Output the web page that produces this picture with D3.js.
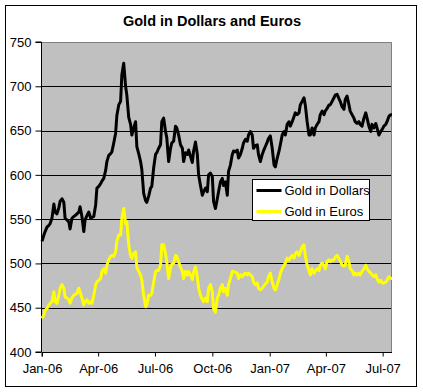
<!DOCTYPE html>
<html><head><meta charset="utf-8">
<script src="https://cdn.jsdelivr.net/npm/d3@7"></script>
<style>html,body{margin:0;padding:0;background:#fff;}svg{display:block;font-family:"Liberation Sans",Arial,sans-serif;}</style>
</head><body><svg id="c" width="423" height="392"></svg>
<script>
const title = "Gold in Dollars and Euros";
const seriesNames = ["Gold in Dollars", "Gold in Euros"];
const seriesColors = ["#000000", "#FFFF00"];
const yTicks = [400, 450, 500, 550, 600, 650, 700, 750];
const xTicks = ["2006-01-01","2006-04-01","2006-07-01","2006-10-01","2007-01-01","2007-04-01","2007-07-01"];
const xDomain = ["2006-01-01", "2007-07-16"];
const dates = [
"2006-01-01","2006-01-04","2006-01-06","2006-01-09","2006-01-12","2006-01-14","2006-01-17","2006-01-20","2006-01-22","2006-01-25",
"2006-01-28","2006-01-30","2006-02-02","2006-02-05","2006-02-07","2006-02-10","2006-02-13","2006-02-15","2006-02-18","2006-02-21",
"2006-02-23","2006-02-26","2006-03-01","2006-03-03","2006-03-06","2006-03-09","2006-03-11","2006-03-14","2006-03-17","2006-03-20",
"2006-03-22","2006-03-25","2006-03-28","2006-03-30","2006-04-02","2006-04-05","2006-04-07","2006-04-10","2006-04-13","2006-04-15",
"2006-04-18","2006-04-21","2006-04-23","2006-04-26","2006-04-29","2006-05-01","2006-05-04","2006-05-07","2006-05-09","2006-05-12",
"2006-05-15","2006-05-17","2006-05-20","2006-05-23","2006-05-25","2006-05-28","2006-05-31","2006-06-02","2006-06-05","2006-06-08",
"2006-06-10","2006-06-13","2006-06-16","2006-06-18","2006-06-21","2006-06-24","2006-06-26","2006-06-29","2006-07-02","2006-07-04",
"2006-07-07","2006-07-10","2006-07-12","2006-07-15","2006-07-18","2006-07-20","2006-07-23","2006-07-26","2006-07-28","2006-07-31",
"2006-08-03","2006-08-05","2006-08-08","2006-08-11","2006-08-14","2006-08-16","2006-08-19","2006-08-22","2006-08-24","2006-08-27",
"2006-08-30","2006-09-01","2006-09-04","2006-09-07","2006-09-09","2006-09-12","2006-09-15","2006-09-17","2006-09-20","2006-09-23",
"2006-09-25","2006-09-28","2006-10-01","2006-10-03","2006-10-06","2006-10-09","2006-10-11","2006-10-14","2006-10-17","2006-10-19",
"2006-10-22","2006-10-25","2006-10-27","2006-10-30","2006-11-02","2006-11-04","2006-11-07","2006-11-10","2006-11-12","2006-11-15",
"2006-11-18","2006-11-20","2006-11-23","2006-11-26","2006-11-28","2006-12-01","2006-12-04","2006-12-06","2006-12-09","2006-12-12",
"2006-12-14","2006-12-17","2006-12-20","2006-12-22","2006-12-25","2006-12-28","2006-12-30","2007-01-02","2007-01-05","2007-01-08",
"2007-01-10","2007-01-13","2007-01-16","2007-01-18","2007-01-21","2007-01-24","2007-01-26","2007-01-29","2007-02-01","2007-02-03",
"2007-02-06","2007-02-09","2007-02-11","2007-02-14","2007-02-17","2007-02-19","2007-02-22","2007-02-25","2007-02-27","2007-03-02",
"2007-03-05","2007-03-07","2007-03-10","2007-03-13","2007-03-15","2007-03-18","2007-03-21","2007-03-23","2007-03-26","2007-03-29",
"2007-03-31","2007-04-03","2007-04-06","2007-04-08","2007-04-11","2007-04-14","2007-04-16","2007-04-19","2007-04-22","2007-04-24",
"2007-04-27","2007-04-30","2007-05-02","2007-05-05","2007-05-08","2007-05-10","2007-05-13","2007-05-16","2007-05-18","2007-05-21",
"2007-05-24","2007-05-26","2007-05-29","2007-06-01","2007-06-04","2007-06-06","2007-06-09","2007-06-12","2007-06-14","2007-06-17",
"2007-06-20","2007-06-22","2007-06-25","2007-06-28","2007-06-30","2007-07-03","2007-07-06","2007-07-08","2007-07-11","2007-07-14",
"2007-07-16"];
const dollars = [
525,532,536,541,543,545,551,567,558,556,
563,570,573,569,551,549,547,539,551,553,
554,556,558,564,553,536,549,554,558,551,
552,553,566,585,587,590,593,596,605,615,
622,624,626,636,647,667,679,683,713,726,
700,690,665,657,645,653,660,632,624,615,
606,579,571,569,576,585,587,608,623,625,
630,634,660,664,649,642,615,630,636,638,
655,653,645,634,630,615,625,623,628,621,
614,627,637,623,600,588,577,581,585,581,
600,602,598,570,562,573,581,592,596,588,
592,577,604,611,623,627,626,628,619,623,
630,636,640,638,645,649,645,630,633,634,
623,615,623,627,632,637,641,644,630,611,
609,619,627,634,645,649,645,657,660,655,
660,666,670,668,670,679,683,687,679,660,
645,645,653,645,653,657,660,668,672,668,
672,675,679,679,683,687,690,691,686,683,
677,674,685,689,679,672,668,664,660,658,
660,657,655,664,670,664,655,649,657,653,
658,653,645,649,651,655,657,660,666,668,
668];
const euros = [
438,442,447,449,453,455,457,468,457,455,
464,472,476,472,462,461,459,455,461,464,
465,466,472,468,461,453,457,459,455,457,
455,464,476,479,481,483,491,494,489,498,
504,508,509,508,513,525,532,532,551,562,
545,547,521,509,506,511,513,496,491,487,
481,464,451,453,464,464,466,479,491,492,
492,498,521,521,511,502,483,495,499,500,
509,508,502,496,491,483,491,487,491,487,
482,490,496,485,472,464,459,457,461,457,
472,476,468,449,445,461,464,472,476,468,
472,464,476,483,491,491,490,489,483,487,
485,487,489,487,489,487,485,479,476,478,
472,470,472,474,477,479,485,489,479,472,
470,476,483,489,494,498,500,506,504,506,
509,506,511,513,509,513,519,521,509,498,
492,487,494,489,491,494,492,498,500,498,
494,502,504,502,504,504,507,509,505,503,
498,497,498,508,502,494,492,487,489,487,
489,487,491,494,498,494,491,489,487,485,
487,483,479,481,478,478,479,481,485,483,
483];

const svg = d3.select("#c");
const parse = d3.timeParse("%Y-%m-%d");
const plot = {left: 42, right: 392, top: 42, bottom: 352};

// outer frame
svg.append("rect").attr("x", 5.5).attr("y", 5.5).attr("width", 411).attr("height", 381)
  .attr("fill", "#fff").attr("stroke", "#000").attr("stroke-width", 1);

svg.append("text").attr("x", 212).attr("y", 26).attr("text-anchor", "middle")
  .attr("font-size", "14.5px").attr("font-weight", "bold").text(title);

const x = d3.scaleTime().domain(xDomain.map(parse)).range([plot.left, plot.right]);
const y = d3.scaleLinear().domain([yTicks[0], yTicks[yTicks.length - 1]]).range([plot.bottom, plot.top]);

svg.append("rect").attr("x", plot.left).attr("y", plot.top)
  .attr("width", plot.right - plot.left).attr("height", plot.bottom - plot.top).attr("fill", "#C0C0C0");

// gridlines
svg.append("g").selectAll("line").data(yTicks.slice(1, -1)).join("line")
  .attr("x1", plot.left).attr("x2", plot.right)
  .attr("y1", d => Math.round(y(d)) + 0.5).attr("y2", d => Math.round(y(d)) + 0.5)
  .attr("stroke", "#000").attr("stroke-width", 1);

// plot border top/right grey
svg.append("path").attr("d", `M${plot.left},${plot.top + 0.5}H${plot.right - 0.5}V${plot.bottom}`)
  .attr("fill", "none").attr("stroke", "#808080").attr("stroke-width", 1);

// axes
const yAxis = d3.axisLeft(y).tickValues(yTicks).tickSize(6).tickPadding(4).tickFormat(d3.format("d"));
const gy = svg.append("g").attr("transform", `translate(${plot.left - 0.5},0)`).call(yAxis);
const xAxis = d3.axisBottom(x).tickValues(xTicks.map(parse)).tickSize(4).tickPadding(7).tickFormat(d3.timeFormat("%b-%y"));
const gx = svg.append("g").attr("transform", `translate(0,${plot.bottom + 0.5})`).call(xAxis);
[gy, gx].forEach(g => {
  g.select(".domain").attr("stroke", "#000");
  g.selectAll(".tick line").attr("stroke", "#000");
  g.selectAll(".tick text").attr("font-size", "13px").attr("fill", "#000")
    .attr("font-family", "'Liberation Sans',Arial,sans-serif");
});
gy.select(".domain").attr("d", `M-6,${plot.top}H0V${plot.bottom}H-6`);
gx.select(".domain").attr("d", `M${plot.left},4V0H${plot.right}`);

// lines
const parsed = dates.map(parse);
const line = d3.line().x((d, i) => x(parsed[i])).y(d => y(d));
[dollars, euros].forEach((vals, si) => {
  svg.append("path").datum(vals).attr("d", line)
    .attr("fill", "none").attr("stroke", seriesColors[si]).attr("stroke-width", 3)
    .attr("stroke-linejoin", "round");
});

// legend
const lg = svg.append("g").attr("transform", "translate(252.5,179.5)");
lg.append("rect").attr("width", 117).attr("height", 41).attr("fill", "#fff").attr("stroke", "#000");
seriesNames.forEach((n, i) => {
  const yy = 11 + i * 21;
  lg.append("line").attr("x1", 4).attr("x2", 29).attr("y1", yy).attr("y2", yy)
    .attr("stroke", seriesColors[i]).attr("stroke-width", 3);
  lg.append("text").attr("x", 32).attr("y", yy + 4.5).attr("font-size", "13px").text(n);
});
</script></body></html>
